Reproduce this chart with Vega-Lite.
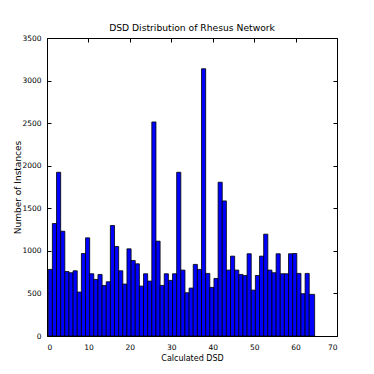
{
  "$schema": "https://vega.github.io/schema/vega-lite/v6.json",
  "autosize": {"type": "none"},
  "width": 290,
  "height": 298,
  "padding": {"left": 47, "top": 38, "right": 37, "bottom": 38},
  "background": "white",
  "title": {"text": "DSD Distribution of Rhesus Network", "font": "DejaVu Sans", "fontSize": 9.2, "fontWeight": "normal", "color": "black", "offset": 1},
  "config": {
    "view": {"stroke": "black", "strokeWidth": 1},
    "axis": {"labelFont": "DejaVu Sans", "titleFont": "DejaVu Sans", "labelFontSize": 7.5, "titleFontSize": 8, "titleFontWeight": "normal", "labelColor": "black", "titleColor": "black", "domain": false, "grid": false, "ticks": true, "tickColor": "black", "tickWidth": 1, "tickSize": 4, "offset": -4, "labelPadding": 7, "format": "d"}
  },
  "data": {"values": [
    {"x0": 0.3, "x1": 1.3, "count": 782},
    {"x0": 1.3, "x1": 2.3, "count": 1321},
    {"x0": 2.3, "x1": 3.3, "count": 1923},
    {"x0": 3.3, "x1": 4.3, "count": 1231},
    {"x0": 4.3, "x1": 5.3, "count": 758},
    {"x0": 5.3, "x1": 6.3, "count": 743},
    {"x0": 6.3, "x1": 7.3, "count": 766},
    {"x0": 7.3, "x1": 8.3, "count": 516},
    {"x0": 8.3, "x1": 9.3, "count": 969},
    {"x0": 9.3, "x1": 10.3, "count": 1153},
    {"x0": 10.3, "x1": 11.3, "count": 731},
    {"x0": 11.3, "x1": 12.3, "count": 664},
    {"x0": 12.3, "x1": 13.3, "count": 723},
    {"x0": 13.3, "x1": 14.3, "count": 594},
    {"x0": 14.3, "x1": 15.3, "count": 637},
    {"x0": 15.3, "x1": 16.3, "count": 1298},
    {"x0": 16.3, "x1": 17.3, "count": 1051},
    {"x0": 17.3, "x1": 18.3, "count": 766},
    {"x0": 18.3, "x1": 19.3, "count": 610},
    {"x0": 19.3, "x1": 20.3, "count": 1024},
    {"x0": 20.3, "x1": 21.3, "count": 887},
    {"x0": 21.3, "x1": 22.3, "count": 848},
    {"x0": 22.3, "x1": 23.3, "count": 586},
    {"x0": 23.3, "x1": 24.3, "count": 731},
    {"x0": 24.3, "x1": 25.3, "count": 645},
    {"x0": 25.3, "x1": 26.3, "count": 2514},
    {"x0": 26.3, "x1": 27.3, "count": 1114},
    {"x0": 27.3, "x1": 28.3, "count": 594},
    {"x0": 28.3, "x1": 29.3, "count": 731},
    {"x0": 29.3, "x1": 30.3, "count": 653},
    {"x0": 30.3, "x1": 31.3, "count": 731},
    {"x0": 31.3, "x1": 32.3, "count": 1923},
    {"x0": 32.3, "x1": 33.3, "count": 774},
    {"x0": 33.3, "x1": 34.3, "count": 508},
    {"x0": 34.3, "x1": 35.3, "count": 563},
    {"x0": 35.3, "x1": 36.3, "count": 841},
    {"x0": 36.3, "x1": 37.3, "count": 782},
    {"x0": 37.3, "x1": 38.3, "count": 3139},
    {"x0": 38.3, "x1": 39.3, "count": 735},
    {"x0": 39.3, "x1": 40.3, "count": 571},
    {"x0": 40.3, "x1": 41.3, "count": 676},
    {"x0": 41.3, "x1": 42.3, "count": 1806},
    {"x0": 42.3, "x1": 43.3, "count": 1587},
    {"x0": 43.3, "x1": 44.3, "count": 774},
    {"x0": 44.3, "x1": 45.3, "count": 938},
    {"x0": 45.3, "x1": 46.3, "count": 774},
    {"x0": 46.3, "x1": 47.3, "count": 723},
    {"x0": 47.3, "x1": 48.3, "count": 711},
    {"x0": 48.3, "x1": 49.3, "count": 966},
    {"x0": 49.3, "x1": 50.3, "count": 539},
    {"x0": 50.3, "x1": 51.3, "count": 711},
    {"x0": 51.3, "x1": 52.3, "count": 938},
    {"x0": 52.3, "x1": 53.3, "count": 1196},
    {"x0": 53.3, "x1": 54.3, "count": 774},
    {"x0": 54.3, "x1": 55.3, "count": 743},
    {"x0": 55.3, "x1": 56.3, "count": 966},
    {"x0": 56.3, "x1": 57.3, "count": 731},
    {"x0": 57.3, "x1": 58.3, "count": 731},
    {"x0": 58.3, "x1": 59.3, "count": 966},
    {"x0": 59.3, "x1": 60.3, "count": 969},
    {"x0": 60.3, "x1": 61.3, "count": 735},
    {"x0": 61.3, "x1": 62.3, "count": 497},
    {"x0": 62.3, "x1": 63.3, "count": 735},
    {"x0": 63.3, "x1": 64.6, "count": 489}
  ]},
  "layer": [
    {
      "mark": {"type": "bar", "fill": "#0000ff", "stroke": "black", "strokeWidth": 0.8},
      "encoding": {
        "x": {"field": "x0", "type": "quantitative", "scale": {"domain": [0, 70], "nice": false, "zero": false}, "axis": {"title": "Calculated DSD", "values": [0, 10, 20, 30, 40, 50, 60, 70], "titlePadding": 4}},
        "x2": {"field": "x1"},
        "y": {"field": "count", "type": "quantitative", "scale": {"domain": [0, 3500], "nice": false}, "axis": {"title": "Number of Instances", "titleFontSize": 9, "labelPadding": 6, "values": [0, 500, 1000, 1500, 2000, 2500, 3000, 3500], "titlePadding": -1}},
        "y2": {"datum": 0}
      }
    },
    {
      "mark": {"type": "point", "opacity": 0},
      "encoding": {
        "x": {"field": "x0", "type": "quantitative", "axis": {"orient": "top", "title": null, "labels": false, "values": [0, 10, 20, 30, 40, 50, 60, 70]}},
        "y": {"field": "count", "type": "quantitative", "axis": {"orient": "right", "title": null, "labels": false, "values": [0, 500, 1000, 1500, 2000, 2500, 3000, 3500]}}
      }
    }
  ],
  "resolve": {"axis": {"x": "independent", "y": "independent"}}
}
